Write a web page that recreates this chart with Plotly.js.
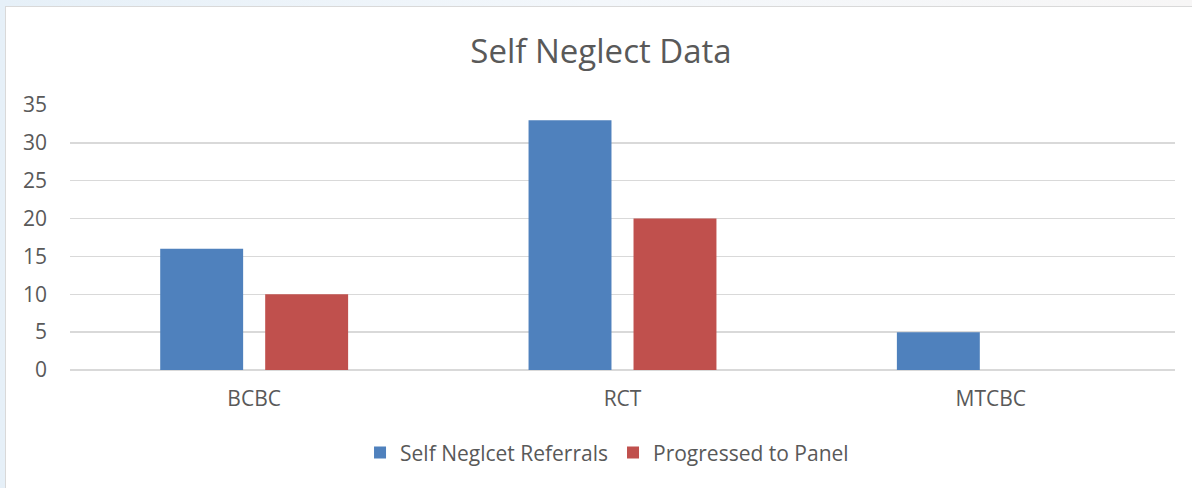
<!DOCTYPE html>
<html><head><meta charset="utf-8">
<script src="https://cdn.plot.ly/plotly-3.0.1.min.js"></script>
<style>
html,body{margin:0;padding:0;width:1192px;height:488px;overflow:hidden;background:linear-gradient(90deg,#e6f0f8,#f3f7fb 50%,#f7f6f6);}
#chart{position:absolute;left:5px;top:6px;width:1190px;height:484px;border:1px solid #d9d9d9;background:#fff;}
</style></head><body>
<div id="chart"></div>
<script>
const categories = ["BCBC", "RCT", "MTCBC"];
const referrals = [16, 33, 5];
const progressed = [10, 20, 0];
const seriesNames = ["Self Neglcet Referrals", "Progressed to Panel"];
const yTicks = [0, 5, 10, 15, 20, 25, 30, 35];

const font = {family: "Open Sans, Liberation Sans, sans-serif", color: "#595959"};
const data = [
  {type: "bar", x: categories, y: referrals, name: seriesNames[0], marker: {color: "#4f81bd"}},
  {type: "bar", x: categories, y: progressed, name: seriesNames[1], marker: {color: "#c0504d"}}
];
const layout = {
  width: 1190, height: 484,
  margin: {l: 64, r: 21, t: 98, b: 121},
  paper_bgcolor: "#fff", plot_bgcolor: "#fff",
  font: font,
  title: {text: "Self Neglect Data", x: 0.5, xanchor: "center", y: 0.909, yanchor: "middle",
          font: {family: font.family, size: 33, color: "#595959"}},
  barmode: "group", bargap: 0.43, bargroupgap: 0.21,
  xaxis: {showgrid: false, zeroline: false, showline: false, ticks: "",
          tickfont: {size: 21, color: "#595959"}, ticklabelstandoff: 14},
  yaxis: {range: [0, 35], tickvals: yTicks, showgrid: true, gridcolor: "#d9d9d9", gridwidth: 1.5,
          zeroline: true, zerolinecolor: "#d9d9d9", zerolinewidth: 1.5, showline: false,
          tickfont: {size: 21, color: "#595959"}, ticklabelstandoff: 22},
  showlegend: true,
  legend: {orientation: "h", x: 0.486, xanchor: "center", y: -0.313, yanchor: "middle",
           font: {size: 21, color: "#595959"}, itemwidth: 30, tracegroupgap: 0}
};
Plotly.newPlot("chart", data, layout, {staticPlot: true});
</script>
</body></html>
